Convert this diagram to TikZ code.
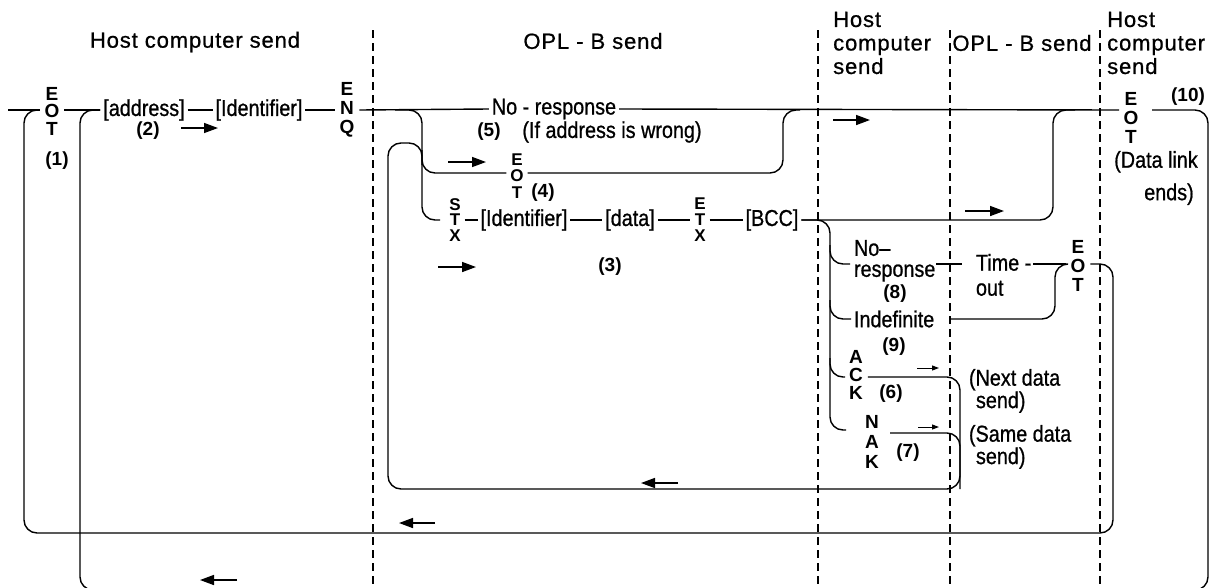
\documentclass[tikz,border=0pt]{standalone}
\usepackage{fontspec}
\setmainfont{Liberation Sans}
\newfontfamily\lblfont[FakeStretch=0.86,FakeBold=0.8]{Liberation Sans}
\newfontfamily\hdrfont[LetterSpace=4,FakeBold=0.8]{Liberation Sans}
\usetikzlibrary{arrows.meta,calc}
\begin{document}
\begin{tikzpicture}[x=1pt,y=-1pt,
  lbl/.style={font=\lblfont\fontsize{23}{21}\selectfont, inner sep=0pt, outer sep=3pt},
  stack/.style={font=\bfseries\fontsize{19}{#1}\selectfont, align=center, inner sep=0pt, outer sep=5pt},
  stack/.default=18,
  sstack/.style={font=\bfseries\fontsize{17}{#1}\selectfont, align=center, inner sep=0pt, outer sep=4pt},
  num/.style={font=\bfseries\fontsize{19}{20}\selectfont, inner sep=0pt},
  hdr/.style={font=\hdrfont\fontsize{22}{23.5}\selectfont, inner sep=0pt},
  wire/.style={line width=1.4pt, rounded corners=13pt},
  sepline/.style={line width=1.2pt, dash pattern=on 8pt off 5pt},
  arr/.style={line width=1.5pt, -{Triangle[length=14pt,width=10pt]}},
  sarr/.style={line width=1pt, -{Triangle[length=7pt,width=5pt]}}]
\useasboundingbox (0,0) rectangle (1219,587);

% headers
\node[hdr] (h1) at (195,42) {Host computer send};
\node[hdr] (h2) at (593,41) {OPL - B send};
\node[hdr, align=left, anchor=west] (h3) at (833,43) {Host\\computer\\send};
\node[hdr] (h4) at (1022,43) {OPL - B send};
\node[hdr, align=left, anchor=west] (h5) at (1107,43) {Host\\computer\\send};

% separators
\foreach \x in {373,818,950,1100} \draw[sepline] (\x,30) -- (\x,587);

% first row
\coordinate (in) at (8,110);
\node[stack=17.5] (eot1) at (52,111) {E\\O\\T};
\node[num] (n1) at (57,161) {(1)};
\node[lbl] (addr) at (144,110) {[address]};
\node[num] (n2) at (148,131) {(2)};
\draw[arr] (181,128) -- (218,128);
\node[lbl] (id1) at (259,110) {[Identifier]};
\node[stack=19] (enq) at (347,110) {E\\N\\Q};
\node[lbl] (nr) at (554,109) {No - response};
\node[num] (n5) at (489,132) {(5)};
\node[lbl] (iaw) at (612,132) {(If address is wrong)};
\node[stack=19] (eot10) at (1131,118) {E\\O\\T};
\node[num] (n10) at (1188,97) {(10)};
\node[lbl, align=left] (dl) at (1156,178) {(Data link\\[10pt]\hspace{30pt}ends)};
\coordinate (m10in) at (1119,110);
\coordinate (m10out) at (1152,110);
\coordinate (j1) at (395,110);

\draw[wire] (in) -- (eot1.west |- in);
\draw[wire] (eot1.east |- in) -- (addr.west);
\draw[wire] (addr.east) -- (id1.west);
\draw[wire] (id1.east) -- (enq.west);
\draw[wire] (enq.east) -- (nr.west);
\draw[wire] (nr.east) -- (m10in);
\draw[arr] (833,120) -- (870,120);

% EOT (4) branch
\node[sstack=16.5] (eot4) at (517,176) {E\\O\\T};
\node[num] (n4) at (543,193) {(4)};
\draw[arr] (448,162) -- (486,162);
\draw[wire] (j1) -- (422,110) -- (422,220) -- (440,220);
\draw[wire] (422,150) -- (422,173) -- (eot4.west |- 0,173);
\draw[wire] (eot4.east |- 0,173) -- (783,173) -- (783,110) -- (800,110);

% STX row
\node[sstack=15.5] (stx) at (455,220) {S\\T\\X};
\node[lbl] (id2) at (524,220) {[Identifier]};
\node[lbl] (data) at (630,220) {[data]};
\node[sstack=16] (etx) at (700,220) {E\\T\\X};
\node[lbl] (bcc) at (772,220) {[BCC]};
\node[num] (n3) at (610,267) {(3)};
\draw[arr] (438,267) -- (476,267);
\draw[wire] (stx.east) -- (id2.west);
\draw[wire] (id2.east) -- (data.west);
\draw[wire] (data.east) -- (etx.west);
\draw[wire] (etx.east) -- (bcc.west);
\draw[wire] (bcc.east) -- (1053,220) -- (1053,110) -- (1075,110);
\draw[arr] (965,211) -- (1004,211);

% responses after BCC
\draw[wire] (bcc.east) -- (830,220) -- (830,430) -- (846,430);
\node[lbl, align=left, anchor=north west] (nr8) at (851,237) {No–\\response};
\node[num] (n8) at (895,294) {(8)};
\node[lbl, align=left, anchor=north west] (to) at (973,251) {Time -\\[4pt]out};
\node[stack=19] (eot89) at (1078,266) {E\\O\\T};
\coordinate (r8) at (936,264);
\coordinate (t8) at (962,264);
\coordinate (t8o) at (1033,264);
\draw[wire] (830,245) -- (830,264) -- (850,264);
\draw[wire] (r8) -- (t8);
\draw[wire] (t8o) -- (eot89.west |- 0,264);

\node[lbl, anchor=west] (ind) at (851,319) {Indefinite};
\node[num] (n9) at (894,347) {(9)};
\coordinate (i9) at (950,319);
\draw[wire] (830,300) -- (830,319) -- (ind.west);
\draw[wire] (i9) -- (1055,319) -- (1055,264) -- (eot89.west |- 0,264);

\node[stack=18] (ack) at (856,375) {A\\C\\K};
\node[num] (n6) at (891,394) {(6)};
\draw[sarr] (917,368) -- (939,368);
\draw[wire] (830,358) -- (830,377) -- (845,377);
\node[lbl, align=left, anchor=north west] (nd) at (966,366) {(Next data\\\hspace{7pt}send)};

\node[stack=20] (nak) at (872,442) {N\\A\\K};
\node[num] (n7) at (908,453) {(7)};
\draw[sarr] (918,427) -- (939,427);
\coordinate (nakout) at (890,433);
\draw[wire] (nakout) -- (960,433) -- (960,489);
\node[lbl, align=left, anchor=north west] (sd) at (966,422) {(Same data\\\hspace{7pt}send)};

% return loop (ACK / NAK)
\draw[wire] (ack.east |- 0,377) -- (960,377) -- (960,489) -- (388,489) -- (388,143) -- (422,143) -- (422,165);
\draw[arr] (678,483) -- (641,483);

% big loop (EOT after time-out)
\draw[wire] (eot89.east |- 0,264) -- (1113,264) -- (1113,533) -- (24,533) -- (24,110) -- (eot1.west |- in);
\draw[arr] (435,523) -- (399,523);

% data link end loop
\draw[wire] (m10out) -- (1208,110) -- (1208,590) -- (80,590) -- (80,110) -- (addr.west);
\draw[arr] (237,580) -- (200,580);
\end{tikzpicture}
\end{document}
